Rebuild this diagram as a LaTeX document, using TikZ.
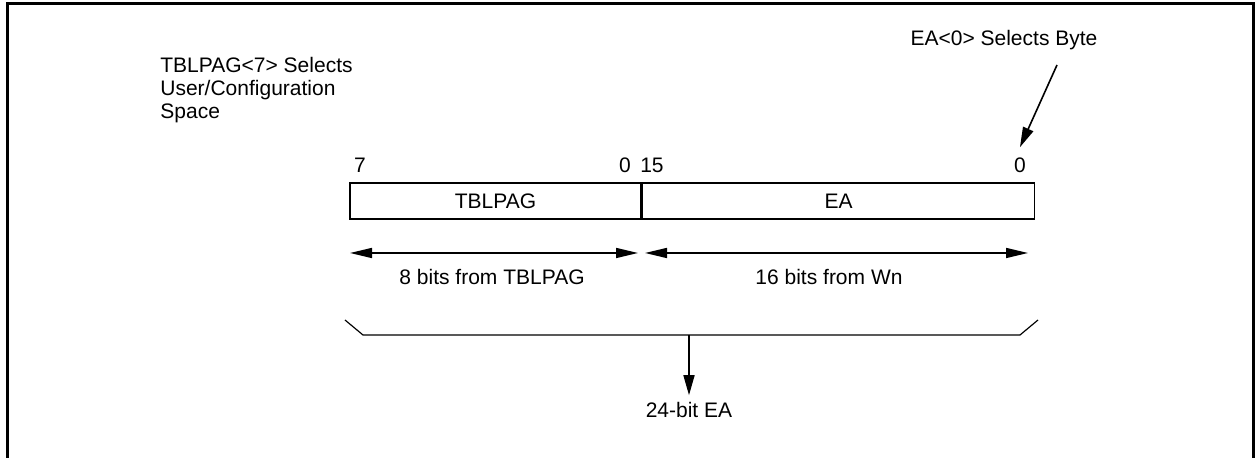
\documentclass[tikz,border=0pt]{standalone}
\usepackage{fontspec}
\setmainfont{Liberation Sans}
\usetikzlibrary{arrows.meta, positioning, calc}
\newcommand{\lbl}{\fontsize{10.5}{11.5}\selectfont}

\begin{document}
\begin{tikzpicture}[x=0.5pt, y=-0.5pt, font=\lbl,
    field/.style={draw, line width=0.8pt, minimum height=18pt, inner sep=0pt},
    bitno/.style={inner sep=0pt},
    span/.style={{Triangle[length=11pt, width=5pt]}-{Triangle[length=11pt, width=5pt]}, line width=0.8pt},
    tip/.style={-{Triangle[length=10pt, width=5.5pt]}, line width=0.8pt}
]
    \useasboundingbox (0,0) rectangle (1255,458);
    \draw[line width=1.5pt] (7,458) -- (7,4) -- (1253,4) -- (1253,458);

    % address register
    \node[field, minimum width=145.5pt] (pag) at (495.5,201) {TBLPAG};
    \node[field, minimum width=196pt, anchor=west] (ea) at (pag.east) {EA};
    \node[bitno] (b7) at (360,165) {7};
    \node[bitno] (b0a) at (625,165) {0};
    \node[bitno] (b15) at (652,165) {15};
    \node[bitno] (b0b) at (1020,165) {0};

    % field widths
    \coordinate (s1) at (350,253);
    \coordinate (e1) at (638,253);
    \coordinate (s2) at (645,253);
    \coordinate (e2) at (1028,253);
    \draw[span] (s1) -- (e1);
    \draw[span] (s2) -- (e2);
    \node (w8) at (492,277) {8 bits from TBLPAG};
    \node (w16) at (829,277) {16 bits from Wn};

    % notes
    \node[anchor=west, align=left, inner sep=0pt] (usr) at (160,90) {TBLPAG<7> Selects\\User/Configuration\\Space};
    \node (selb) at (1004,40) {EA<0> Selects Byte};
    \coordinate (ptr) at (1057,65);
    \draw[tip] (ptr) -- ([yshift=5pt]b0b.north);

    % combined address
    \coordinate (bl) at (345,320);
    \coordinate (br) at (1038,320);
    \coordinate (bmid) at (689,335);
    \draw[line width=0.6pt] (bl) -- (363,335) -- (1020,335) -- (br);
    \node (full) at (689,410) {24-bit EA};
    \draw[tip] (bmid) -- (full.north);
\end{tikzpicture}
\end{document}
